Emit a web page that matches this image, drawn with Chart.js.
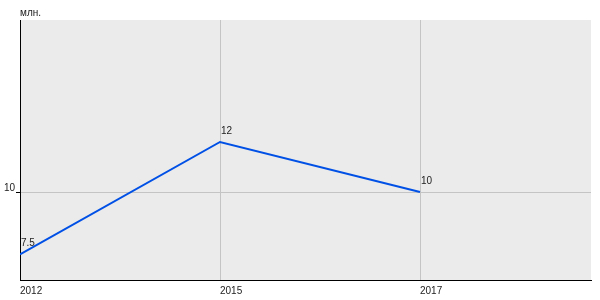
<!DOCTYPE html>
<html>
<head>
<meta charset="utf-8">
<script src="https://cdn.jsdelivr.net/npm/chart.js@4/dist/chart.umd.min.js"></script>
<style>
  html, body { margin: 0; padding: 0; background: #fff; }
  #wrap { width: 600px; height: 300px; }
</style>
</head>
<body>
<div id="wrap"><canvas id="chart" width="600" height="300"></canvas></div>
<script>
// values
const years = ['2012', '2015', '2017'];
const values = [7.5, 12, 10];
const yTicks = [10];
const unitLabel = 'млн.';

const fontFamily = '"Liberation Sans", Arial, sans-serif';
const textColor = '#222';

// background of the plot area
const plotBackground = {
    id: 'plotBackground',
    beforeDraw(chart) {
        const a = chart.chartArea;
        const ctx = chart.ctx;
        ctx.save();
        ctx.fillStyle = '#ebebeb';
        ctx.fillRect(a.left, a.top, a.right - a.left, a.bottom - a.top);
        ctx.restore();
    }
};

// value labels above each point and unit caption
const valueLabels = {
    id: 'valueLabels',
    afterDatasetsDraw(chart) {
        const ctx = chart.ctx;
        const meta = chart.getDatasetMeta(0);
        ctx.save();
        ctx.font = '10px ' + fontFamily;
        ctx.fillStyle = textColor;
        ctx.textAlign = 'left';
        ctx.textBaseline = 'bottom';
        meta.data.forEach(function(pt, i) {
            ctx.fillText(String(values[i]), pt.x + 1, pt.y - 6);
        });
        ctx.textBaseline = 'alphabetic';
        ctx.fillText(unitLabel, chart.chartArea.left, 16);
        ctx.restore();
    }
};

new Chart(document.getElementById('chart').getContext('2d'), {
    type: 'line',
    data: {
        datasets: [{
            data: values.map(function(v, i) { return { x: i, y: v }; }),
            borderColor: '#0050e6',
            borderWidth: 2,
            pointRadius: 0,
            tension: 0,
            fill: false
        }]
    },
    options: {
        responsive: false,
        animation: false,
        layout: { padding: { top: 20, right: 9, left: 0, bottom: 0 } },
        plugins: {
            legend: { display: false },
            tooltip: { enabled: false }
        },
        scales: {
            x: {
                type: 'linear',
                min: 0,
                max: 2.855,
                afterBuildTicks: function(scale) {
                    scale.ticks = years.map(function(y, i) { return { value: i }; });
                },
                afterFit: function(scale) { scale.height = 20; },
                border: { display: true, color: '#000', width: 1 },
                grid: {
                    drawTicks: false,
                    color: function(c) { return c.tick && c.tick.value === 0 ? 'rgba(0,0,0,0)' : '#c4c4c4'; },
                    lineWidth: 1
                },
                ticks: {
                    align: 'start',
                    padding: 5,
                    maxRotation: 0,
                    color: textColor,
                    font: { family: fontFamily, size: 10 },
                    callback: function(v) { return years[v]; }
                }
            },
            y: {
                type: 'linear',
                min: 6.48,
                max: 16.88,
                afterBuildTicks: function(scale) {
                    scale.ticks = yTicks.map(function(v) { return { value: v }; });
                },
                afterFit: function(scale) { scale.width = 20; },
                border: { display: true, color: '#000', width: 1 },
                grid: {
                    color: '#c4c4c4',
                    lineWidth: 1,
                    tickLength: 4,
                    tickColor: '#000'
                },
                ticks: {
                    padding: 1,
                    labelOffset: -4,
                    color: textColor,
                    font: { family: fontFamily, size: 10 }
                }
            }
        }
    },
    plugins: [plotBackground, valueLabels]
});
</script>
</body>
</html>
